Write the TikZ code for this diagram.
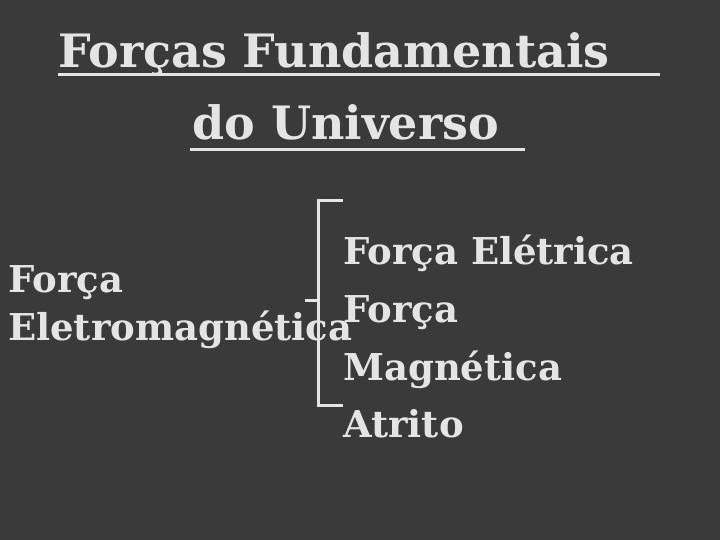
\documentclass[tikz,border=0pt]{standalone}
\usepackage{fontspec}
\setmainfont{DejaVu Serif}
\usetikzlibrary{positioning}
\definecolor{board}{HTML}{3A3A3A}
\definecolor{chalk}{HTML}{E4E4E4}
\tikzset{
  chalktext/.style={text=chalk, font=\bfseries\fontsize{37}{44}\selectfont, inner sep=0pt, anchor=base west, align=left},
  titletext/.style={text=chalk, font=\bfseries\fontsize{46}{60}\selectfont, inner sep=0pt, anchor=base west, align=left},
  brace/.style={draw=chalk, line width=3pt},
  uline/.style={draw=chalk, line width=3pt}
}
\begin{document}
\begin{tikzpicture}[x=1pt, y=-1pt]
  \fill[board] (0,0) rectangle (720,540);
  \useasboundingbox (0,0) rectangle (720,540);
  % title
  \node[titletext] (title1) at (58,68) {Forças Fundamentais};
  \node[titletext] (title2) at (192,140) {do Universo};
  \draw[uline] (58,75) -- (660,75);
  \draw[uline] (190,150) -- (525,150);
  % left
  \node[chalktext] (emA) at (8,292) {Força};
  \node[chalktext] (emB) at (8,340) {Eletromagnética};
  % right
  \node[chalktext] (elet) at (343,264) {Força Elétrica};
  \node[chalktext] (magA) at (343,322) {Força};
  \node[chalktext] (magB) at (343,380) {Magnética};
  \node[chalktext] (atr) at (343,437) {Atrito};
  % bracket
  \coordinate (bt) at (318,201);
  \coordinate (bb) at (318,405);
  \coordinate (bm) at (318,300);
  \draw[brace] (bt -| elet.west) -- (bt) -- (bb) -- (bb -| elet.west);
  \draw[brace] (bm) -- ++(-13,0);
\end{tikzpicture}
\end{document}
